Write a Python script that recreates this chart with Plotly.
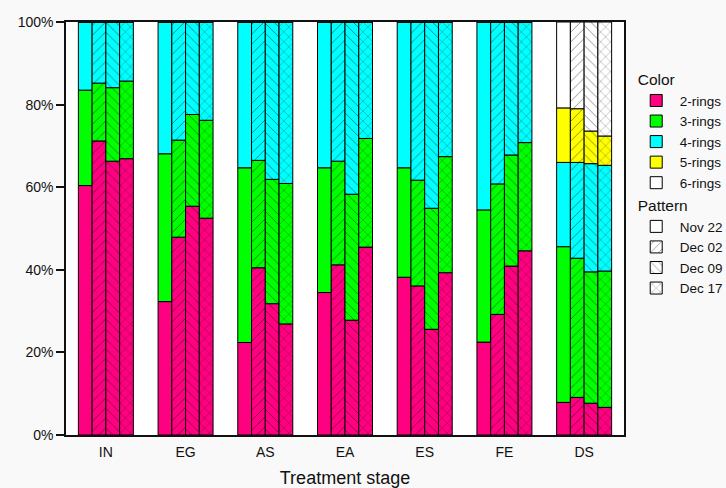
import plotly.graph_objects as go

stages = ["IN", "EG", "AS", "EA", "ES", "FE", "DS"]
dates = ["Nov 22", "Dec 02", "Dec 09", "Dec 17"]
ring_classes = ["2-rings", "3-rings", "4-rings", "5-rings", "6-rings"]
ring_colors = ["#FF0080", "#00FF00", "#00FFFF", "#FFFF00", "#FFFFFF"]
date_patterns = ["", "/", "\\", "x"]
y_ticks = [0, 20, 40, 60, 80, 100]
y_tick_labels = ["0%", "20%", "40%", "60%", "80%", "100%"]

# Percent of each ring class, per sampling date, across stages (IN..DS)
rings2 = {
    "Nov 22": [60.4, 32.3, 22.4, 34.5, 38.2, 22.5, 7.9],
    "Dec 02": [71.2, 47.9, 40.5, 41.2, 36.1, 29.2, 9.1],
    "Dec 09": [66.3, 55.4, 31.8, 27.8, 25.6, 40.9, 7.7],
    "Dec 17": [66.9, 52.5, 26.9, 45.5, 39.3, 44.6, 6.7],
}
rings3 = {
    "Nov 22": [23.1, 35.8, 42.3, 30.2, 26.5, 32.0, 37.7],
    "Dec 02": [14.0, 23.5, 26.0, 25.1, 25.6, 31.6, 33.7],
    "Dec 09": [17.8, 22.2, 30.1, 30.5, 29.3, 26.9, 31.8],
    "Dec 17": [18.8, 23.7, 34.0, 26.3, 28.1, 26.2, 33.0],
}
rings4 = {
    "Nov 22": [16.5, 31.9, 35.3, 35.3, 35.3, 45.5, 20.4],
    "Dec 02": [14.8, 28.6, 33.5, 33.7, 38.3, 39.2, 23.2],
    "Dec 09": [15.9, 22.4, 38.1, 41.7, 45.1, 32.2, 26.2],
    "Dec 17": [14.3, 23.8, 39.1, 28.2, 32.6, 29.2, 25.6],
}
rings5 = {
    "Nov 22": [0, 0, 0, 0, 0, 0, 13.2],
    "Dec 02": [0, 0, 0, 0, 0, 0, 13.0],
    "Dec 09": [0, 0, 0, 0, 0, 0, 7.9],
    "Dec 17": [0, 0, 0, 0, 0, 0, 7.1],
}
rings6 = {
    "Nov 22": [0, 0, 0, 0, 0, 0, 20.8],
    "Dec 02": [0, 0, 0, 0, 0, 0, 21.0],
    "Dec 09": [0, 0, 0, 0, 0, 0, 26.4],
    "Dec 17": [0, 0, 0, 0, 0, 0, 27.6],
}
all_rings = [rings2, rings3, rings4, rings5, rings6]

BAR_W = 0.1725
FONT = "Liberation Sans, Arial, sans-serif"


def pattern(shape):
    return dict(shape=shape, fillmode="overlay", fgcolor="#000000",
                fgopacity=0.5, size=7, solidity=0.12)


fig = go.Figure()

for j, d in enumerate(dates):
    base = [0.0] * len(stages)
    for k, series in enumerate(all_rings):
        vals = series[d]
        fig.add_trace(go.Bar(
            x=stages,
            y=vals,
            base=list(base),
            width=BAR_W,
            offset=-2 * BAR_W + j * BAR_W,
            marker=dict(
                color=ring_colors[k],
                line=dict(color="black", width=1),
                pattern=pattern(date_patterns[j]),
            ),
            showlegend=False,
            hoverinfo="skip",
        ))
        base = [b + v for b, v in zip(base, vals)]

# legend entries: colors
for k, name in enumerate(ring_classes):
    fig.add_trace(go.Bar(
        x=[None], y=[None], name=name,
        marker=dict(color=ring_colors[k], line=dict(color="black", width=1)),
        legendgroup="color",
        legendgrouptitle=dict(text="Color") if k == 0 else None,
    ))
# legend entries: patterns
for j, d in enumerate(dates):
    fig.add_trace(go.Bar(
        x=[None], y=[None], name=d,
        marker=dict(color="white", line=dict(color="black", width=1),
                    pattern=pattern(date_patterns[j])),
        legendgroup="pattern",
        legendgrouptitle=dict(text="Pattern") if j == 0 else None,
    ))

fig.update_layout(
    width=726, height=488,
    barmode="overlay",
    paper_bgcolor="#f9f9f9",
    plot_bgcolor="white",
    margin=dict(l=66, r=102, t=22, b=53, autoexpand=False),
    font=dict(family=FONT, size=14, color="#111"),
    legend=dict(
        x=1.0156, y=0.903, xanchor="left", yanchor="top",
        font=dict(size=13.5, color="#111"),
        grouptitlefont=dict(size=15.5, color="#111"),
        tracegroupgap=0,
        itemwidth=37,
        bgcolor="rgba(0,0,0,0)",
    ),
    xaxis=dict(
        range=[-0.5, 6.5],
        showline=True, linecolor="#111", linewidth=1.5, mirror=True,
        ticks="", tickfont=dict(size=14), ticklabelstandoff=3,
        title=dict(text="Treatment stage", font=dict(size=18), standoff=18),
        showgrid=False,
    ),
    yaxis=dict(
        range=[0, 100],
        tickmode="array", tickvals=y_ticks, ticktext=y_tick_labels,
        ticks="outside", ticklen=8, tickwidth=1.5, tickcolor="#111",
        showline=True, linecolor="#111", linewidth=1.5, mirror=True,
        showgrid=False, zeroline=False,
        tickfont=dict(size=14),
    ),
)

fig.write_html("out.html", config={"displayModeBar": False},
               post_script="document.body.style.margin='0';")
